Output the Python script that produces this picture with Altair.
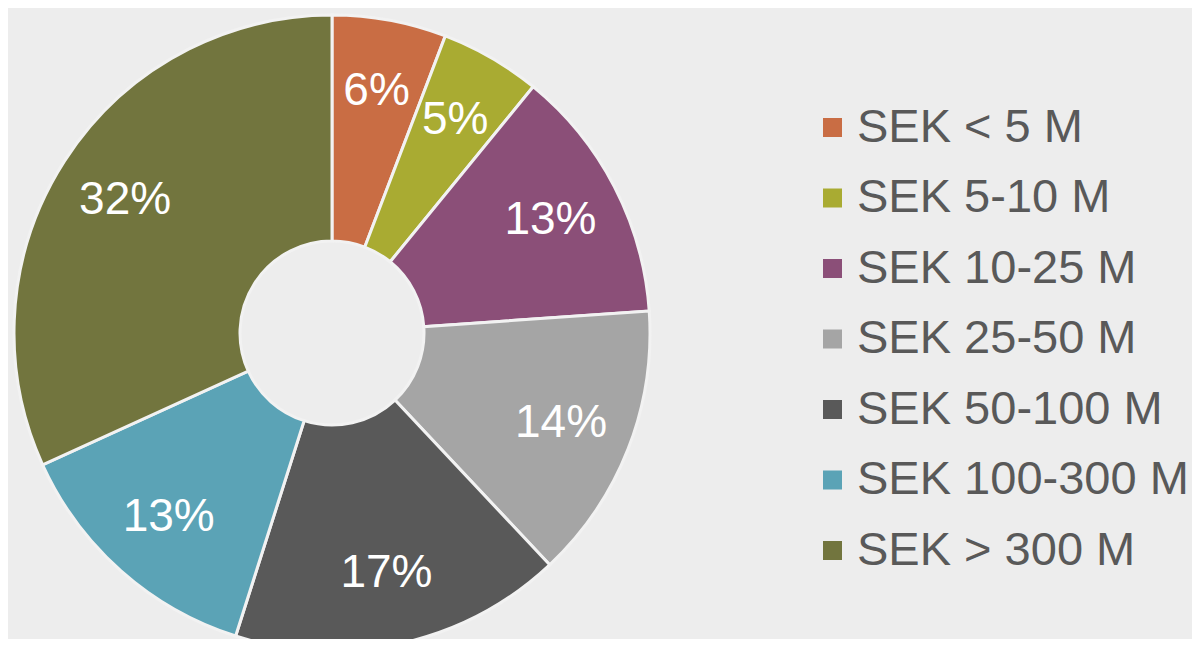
import altair as alt
import pandas as pd

categories = ["SEK < 5 M", "SEK 5-10 M", "SEK 10-25 M", "SEK 25-50 M",
              "SEK 50-100 M", "SEK 100-300 M", "SEK > 300 M"]
shares = [5.8, 5.1, 13.0, 14.1, 16.9, 13.3, 31.8]
labels = ["6%", "5%", "13%", "14%", "17%", "13%", "32%"]
colors = ["#C96D44", "#A9AB32", "#8B4F78", "#A5A5A5", "#595959", "#5BA3B6", "#72753E"]

df = pd.DataFrame({
    "category": categories,
    "share": shares,
    "label": labels,
    "order": list(range(len(categories))),
})

FONT = "Liberation Sans"
CX, CY = 324, 325

base = alt.Chart(df).encode(
    theta=alt.Theta("share:Q", stack=True),
    order=alt.Order("order:Q", sort="ascending"),
)

arcs = base.mark_arc(
    outerRadius=318, innerRadius=92, stroke="#F2F2F2", strokeWidth=3
).encode(
    x=alt.value(CX),
    y=alt.value(CY),
    color=alt.Color(
        "category:N",
        sort=categories,
        scale=alt.Scale(domain=categories, range=colors),
        legend=alt.Legend(
            title=None,
            orient="none",
            legendX=801,
            legendY=96,
            symbolType="square",
            symbolSize=361,
            symbolStrokeWidth=0,
            labelFontSize=47,
            labelFont=FONT,
            labelColor="#595959",
            labelOffset=1,
            labelLimit=500,
            rowPadding=22.5,
        ),
    ),
)

texts = base.mark_text(
    font=FONT, fontSize=46, color="white", align="center", baseline="middle"
).encode(
    x=alt.value(CX),
    y=alt.value(CY),
    radius=alt.value(246),
    text="label:N",
)

chart = alt.layer(arcs, texts).properties(
    width=1184, height=631,
    autosize=alt.AutoSizeParams(type="none"),
    padding=0,
    background="#EDEDED",
).configure_view(stroke=None)

chart.save("out.html", embed_options={"renderer": "svg", "actions": False})
